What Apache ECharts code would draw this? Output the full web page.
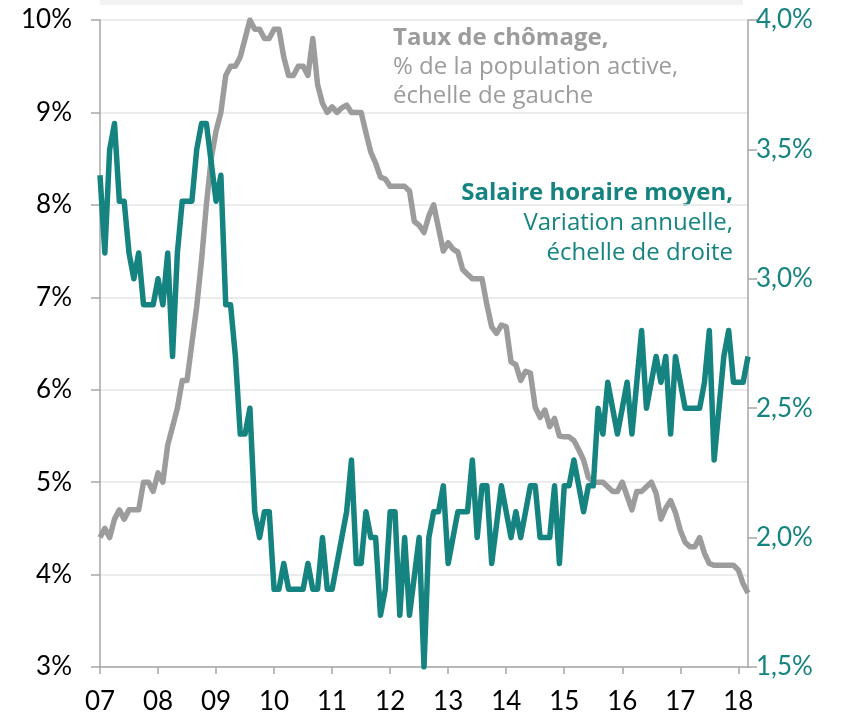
<!DOCTYPE html>
<html>
<head>
<meta charset="utf-8">
<script src="https://cdn.jsdelivr.net/npm/echarts@6/dist/echarts.min.js"></script>
<style>
  html, body { margin: 0; padding: 0; background: #fff; }
  #chart { width: 842px; height: 720px; }
</style>
</head>
<body>
<div id="chart"></div>
<script>
// monthly, Jan 2007 .. Mar 2018
const years = ['07', '08', '09', '10', '11', '12', '13', '14', '15', '16', '17', '18']

// Taux de chômage, % (left scale)
const chomage = [
  4.4, 4.5, 4.4, 4.6, 4.7, 4.6, 4.7, 4.7, 4.7, 5.0,
  5.0, 4.9, 5.1, 5.0, 5.4, 5.6, 5.8, 6.1, 6.1, 6.5,
  6.9, 7.4, 8.0, 8.5, 8.8, 9.0, 9.4, 9.5, 9.5, 9.6,
  9.8, 10.0, 9.9, 9.9, 9.8, 9.8, 9.9, 9.9, 9.6, 9.4,
  9.4, 9.5, 9.5, 9.4, 9.8, 9.3, 9.1, 9.0, 9.06, 9.0,
  9.05, 9.08, 9.0, 9.0, 9.0, 8.78, 8.57, 8.45, 8.3, 8.28,
  8.2, 8.2, 8.2, 8.2, 8.15, 7.82, 7.78, 7.7, 7.88, 8.0,
  7.75, 7.5, 7.59, 7.52, 7.49, 7.3, 7.25, 7.2, 7.2, 7.2,
  6.92, 6.68, 6.61, 6.7, 6.68, 6.3, 6.27, 6.1, 6.2, 6.18,
  5.81, 5.7, 5.78, 5.6, 5.69, 5.5, 5.49, 5.49, 5.45, 5.35,
  5.24, 5.05, 5.0, 5.0, 5.0, 4.95, 4.9, 4.9, 5.0, 4.85,
  4.7, 4.9, 4.9, 4.95, 5.0, 4.88, 4.6, 4.72, 4.8, 4.67,
  4.48, 4.35, 4.3, 4.3, 4.4, 4.23, 4.12, 4.1, 4.1, 4.1,
  4.1, 4.1, 4.05, 3.9, 3.8
]

// Salaire horaire moyen, variation annuelle % (right scale)
const salaire = [
  3.4, 3.1, 3.5, 3.6, 3.3, 3.3, 3.1, 3.0, 3.1, 2.9,
  2.9, 2.9, 3.0, 2.9, 3.1, 2.7, 3.1, 3.3, 3.3, 3.3,
  3.5, 3.6, 3.6, 3.45, 3.3, 3.4, 2.9, 2.9, 2.7, 2.4,
  2.4, 2.5, 2.1, 2.0, 2.1, 2.1, 1.8, 1.8, 1.9, 1.8,
  1.8, 1.8, 1.8, 1.9, 1.8, 1.8, 2.0, 1.8, 1.8, 1.9,
  2.0, 2.1, 2.3, 1.9, 1.9, 2.1, 2.0, 2.0, 1.7, 1.8,
  2.1, 2.1, 1.7, 2.0, 1.7, 1.85, 2.0, 1.5, 2.0, 2.1,
  2.1, 2.2, 1.9, 2.0, 2.1, 2.1, 2.1, 2.3, 2.0, 2.2,
  2.2, 1.9, 2.05, 2.2, 2.1, 2.0, 2.1, 2.0, 2.1, 2.2,
  2.2, 2.0, 2.0, 2.0, 2.2, 1.9, 2.2, 2.2, 2.3, 2.2,
  2.1, 2.2, 2.2, 2.5, 2.4, 2.6, 2.5, 2.4, 2.5, 2.6,
  2.4, 2.6, 2.8, 2.5, 2.6, 2.7, 2.6, 2.7, 2.4, 2.7,
  2.6, 2.5, 2.5, 2.5, 2.5, 2.6, 2.8, 2.3, 2.5, 2.7,
  2.8, 2.6, 2.6, 2.6, 2.7
]

const months = chomage.map((v, i) => years[Math.floor(i / 12)] + '-' + (i % 12 + 1))

const GRAY = '#9c9c9c'
const TEAL = '#15837f'
const AXIS = '#a6a6a6'
const FONT = 'Lato, "Open Sans", sans-serif'
const NOTE_FONT = '"Open Sans", Lato, sans-serif'

const chart = echarts.init(document.getElementById('chart'))

chart.setOption({
  animation: false,
  backgroundColor: '#fff',
  grid: { left: 100, right: 94, top: 20, bottom: 53, containLabel: false },
  xAxis: {
    type: 'category',
    data: months,
    boundaryGap: false,
    axisLine: { lineStyle: { color: AXIS, width: 1.5 } },
    axisTick: { interval: 11, length: 7, lineStyle: { color: AXIS, width: 1.5 } },
    axisLabel: {
      interval: 11,
      margin: 22,
      color: '#000',
      fontSize: 26,
      fontFamily: FONT,
      formatter: v => v.split('-')[0]
    },
    splitLine: { show: false }
  },
  yAxis: [
    {
      type: 'value',
      min: 3,
      max: 10,
      interval: 1,
      axisLine: { show: true, lineStyle: { color: AXIS, width: 1.5 } },
      axisTick: { show: true, length: 9, lineStyle: { color: AXIS, width: 1.5 } },
      axisLabel: {
        margin: 28,
        color: '#000',
        fontSize: 26,
        fontFamily: FONT,
        formatter: v => v + '%'
      },
      splitLine: { lineStyle: { color: '#e6e6e6', width: 1.5 } }
    },
    {
      type: 'value',
      min: 1.5,
      max: 4.0,
      interval: 0.5,
      axisLine: { show: true, lineStyle: { color: AXIS, width: 1.5 } },
      axisTick: { show: true, length: 9, lineStyle: { color: AXIS, width: 1.5 } },
      axisLabel: {
        margin: 8,
        color: TEAL,
        fontSize: 26,
        fontFamily: FONT,
        formatter: v => v.toFixed(1).replace('.', ',') + '%'
      },
      splitLine: { show: false }
    }
  ],
  series: [
    {
      name: 'Taux de chômage',
      type: 'line',
      yAxisIndex: 0,
      data: chomage,
      symbol: 'none',
      lineStyle: { color: GRAY, width: 5.5, join: 'round' }
    },
    {
      name: 'Salaire horaire moyen',
      type: 'line',
      yAxisIndex: 1,
      data: salaire,
      symbol: 'none',
      lineStyle: { color: TEAL, width: 5.5, join: 'round' }
    }
  ],
  graphic: [
    { type: 'rect', shape: { x: 100, y: 0, width: 643, height: 5 }, style: { fill: '#f2f2f2' }, silent: true },
    { type: 'text', style: { x: 393, y: 38, text: 'Taux de chômage,', fill: GRAY, font: 'bold 24px ' + NOTE_FONT, textVerticalAlign: 'middle' } },
    { type: 'text', style: { x: 393, y: 67, text: '% de la population active,', fill: GRAY, font: '24px ' + NOTE_FONT, textVerticalAlign: 'middle' } },
    { type: 'text', style: { x: 393, y: 96, text: 'échelle de gauche', fill: GRAY, font: '24px ' + NOTE_FONT, textVerticalAlign: 'middle' } },
    { type: 'text', style: { x: 733, y: 193, text: 'Salaire horaire moyen,', fill: TEAL, font: 'bold 24px ' + NOTE_FONT, textAlign: 'right', textVerticalAlign: 'middle' } },
    { type: 'text', style: { x: 733, y: 223, text: 'Variation annuelle,', fill: TEAL, font: '24px ' + NOTE_FONT, textAlign: 'right', textVerticalAlign: 'middle' } },
    { type: 'text', style: { x: 733, y: 253, text: 'échelle de droite', fill: TEAL, font: '24px ' + NOTE_FONT, textAlign: 'right', textVerticalAlign: 'middle' } }
  ]
})
</script>
</body>
</html>
